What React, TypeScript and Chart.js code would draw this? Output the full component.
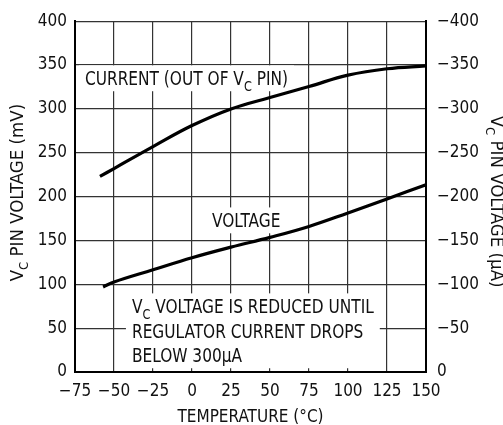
import React, { useEffect, useRef } from 'react';
import { Chart, registerables } from 'chart.js';

Chart.register(...registerables);

// ---- data ----
const currentTemp = [-59, -50, -25, 0, 25, 50, 75, 100, 125, 150];
const currentUA = [223, 232, 257, 281, 300, 313, 325.5, 338.5, 345.8, 349];
const voltageTemp = [-57, -50, -25, 0, 25, 50, 75, 100, 125, 150];
const voltageMV = [97, 102.6, 116.5, 130.3, 142.4, 153.5, 166, 181.4, 197.3, 213.6];

const xMin = -75;
const xMax = 150;
const xStep = 25;
const yMin = 0;
const yMax = 400;
const yStep = 50;

type Run = { t: string; sub?: boolean };
const xTitle = 'TEMPERATURE (°C)';
const leftTitleRuns: Run[] = [{ t: 'V' }, { t: 'C', sub: true }, { t: ' PIN VOLTAGE (mV)' }];
const rightTitleRuns: Run[] = [{ t: 'V' }, { t: 'C', sub: true }, { t: ' PIN VOLTAGE (µA)' }];

const currentLabel: Run[][] = [[{ t: 'CURRENT (OUT OF V' }, { t: 'C', sub: true }, { t: ' PIN)' }]];
const voltageLabel: Run[][] = [[{ t: 'VOLTAGE' }]];
const noteLabel: Run[][] = [
  [{ t: 'V' }, { t: 'C', sub: true }, { t: ' VOLTAGE IS REDUCED UNTIL' }],
  [{ t: 'REGULATOR CURRENT DROPS' }],
  [{ t: 'BELOW 300µA' }],
];
// anchor: left x (°C) and first baseline (mV)
const annotations = [
  { lines: currentLabel, x: -68.6, y: 327 },
  { lines: voltageLabel, x: 12.8, y: 165 },
  { lines: noteLabel, x: -38.5, y: 67 },
];

const FONT = "'DejaVu Sans Condensed', 'Liberation Sans Narrow', sans-serif";
const TICK_SIZE = 17;
const TEXT_SIZE = 19;
const SIDE_TITLE_SIZE = 18.5;
const TEXT_SQUEEZE = 0.9;

function fmtMinus(v: number): string {
  return v < 0 ? '\u2212' + Math.abs(v) : String(v);
}

function runsWidth(ctx: CanvasRenderingContext2D, runs: Run[], size: number): number {
  let w = 0;
  for (const r of runs) {
    ctx.font = `${r.sub ? Math.round(size * 0.72) : size}px ${FONT}`;
    w += ctx.measureText(r.t).width;
  }
  return w;
}

function drawRuns(ctx: CanvasRenderingContext2D, runs: Run[], x: number, y: number, size: number) {
  let cx = x;
  ctx.textAlign = 'left';
  ctx.textBaseline = 'alphabetic';
  for (const r of runs) {
    const s = r.sub ? Math.round(size * 0.72) : size;
    ctx.font = `${s}px ${FONT}`;
    ctx.fillText(r.t, cx, y + (r.sub ? size * 0.28 : 0));
    cx += ctx.measureText(r.t).width;
  }
}

const textPlugin = {
  id: 'textPlugin',
  beforeDatasetsDraw(chart: any) {
    const ctx: CanvasRenderingContext2D = chart.ctx;
    const xs = chart.scales.x;
    const ys = chart.scales.y;
    ctx.save();
    for (const a of annotations) {
      const px = xs.getPixelForValue(a.x);
      const py = ys.getPixelForValue(a.y);
      const lh = 24.5;
      let maxW = 0;
      for (const l of a.lines) maxW = Math.max(maxW, runsWidth(ctx, l, TEXT_SIZE) * TEXT_SQUEEZE);
      const top = py - TEXT_SIZE * 0.73 - 6;
      const bottom = py + (a.lines.length - 1) * lh + 6;
      ctx.fillStyle = '#ffffff';
      ctx.fillRect(px - 6, top, maxW + 12, bottom - top);
      ctx.fillStyle = '#111111';
      a.lines.forEach((l, i) => {
        ctx.save();
        ctx.translate(px, py + i * lh);
        ctx.scale(TEXT_SQUEEZE, 1);
        drawRuns(ctx, l, 0, 0, TEXT_SIZE);
        ctx.restore();
      });
    }
    ctx.restore();
  },
  afterDraw(chart: any) {
    const ctx: CanvasRenderingContext2D = chart.ctx;
    const area = chart.chartArea;
    const midX = (area.left + area.right) / 2;
    const midY = (area.top + area.bottom) / 2;
    ctx.save();
    ctx.fillStyle = '#111111';
    // x title
    ctx.font = `${TICK_SIZE}px ${FONT}`;
    ctx.textAlign = 'center';
    ctx.textBaseline = 'alphabetic';
    ctx.fillText(xTitle, midX, 422);
    // left title
    ctx.save();
    ctx.translate(23, midY - 4);
    ctx.rotate(-Math.PI / 2);
    const lw = runsWidth(ctx, leftTitleRuns, SIDE_TITLE_SIZE);
    drawRuns(ctx, leftTitleRuns, -lw / 2, 0, SIDE_TITLE_SIZE);
    ctx.restore();
    // right title
    ctx.save();
    ctx.translate(491, midY + 5);
    ctx.rotate(Math.PI / 2);
    const rw = runsWidth(ctx, rightTitleRuns, SIDE_TITLE_SIZE);
    drawRuns(ctx, rightTitleRuns, -rw / 2, 0, SIDE_TITLE_SIZE);
    ctx.restore();
    ctx.restore();
  },
};

export default function App() {
  const ref = useRef<HTMLCanvasElement | null>(null);
  useEffect(() => {
    document.body.style.margin = '0';
    if (!ref.current) return;
    const chart = new Chart(ref.current, {
      type: 'line',
      data: {
        datasets: [
          {
            label: 'Current',
            data: currentTemp.map((t, i) => ({ x: t, y: currentUA[i] })),
            yAxisID: 'y',
            borderColor: '#000000',
            borderWidth: 3.2,
            pointRadius: 0,
            tension: 0.4,
            fill: false,
          },
          {
            label: 'Voltage',
            data: voltageTemp.map((t, i) => ({ x: t, y: voltageMV[i] })),
            yAxisID: 'y',
            borderColor: '#000000',
            borderWidth: 3.2,
            pointRadius: 0,
            tension: 0.4,
            fill: false,
          },
        ],
      },
      options: {
        animation: false,
        responsive: false,
        maintainAspectRatio: false,
        layout: { padding: { top: 20, left: 0, right: 0, bottom: 0 } },
        plugins: { legend: { display: false }, tooltip: { enabled: false } },
        scales: {
          x: {
            type: 'linear',
            min: xMin,
            max: xMax,
            afterFit: (s: any) => { s.height = 53; },
            afterBuildTicks: (s: any) => {
              const t = [];
              for (let v = xMin; v <= xMax; v += xStep) t.push({ value: v });
              s.ticks = t;
            },
            ticks: {
              color: '#111111',
              font: { family: FONT, size: TICK_SIZE },
              padding: 9,
              maxRotation: 0,
              autoSkip: false,
              callback: (v: any) => fmtMinus(Number(v)),
            },
            grid: { color: '#333333', lineWidth: 1.2, drawTicks: false },
            border: { color: '#000000', width: 2 },
          },
          y: {
            type: 'linear',
            position: 'left',
            min: yMin,
            max: yMax,
            afterFit: (s: any) => { s.width = 75; },
            ticks: {
              stepSize: yStep,
              color: '#111111',
              font: { family: FONT, size: TICK_SIZE },
              padding: 8,
            },
            grid: { color: '#333333', lineWidth: 1.2, drawTicks: false },
            border: { color: '#000000', width: 2 },
          },
          y2: {
            type: 'linear',
            position: 'right',
            min: yMin,
            max: yMax,
            afterFit: (s: any) => { s.width = 77; },
            ticks: {
              stepSize: yStep,
              color: '#111111',
              font: { family: FONT, size: TICK_SIZE },
              padding: 11,
              callback: (v: any) => fmtMinus(-Number(v)),
            },
            grid: { display: false, drawTicks: false },
            border: { color: '#000000', width: 2 },
          },
        },
      },
      plugins: [textPlugin],
    });
    return () => chart.destroy();
  }, []);
  return (
    <div style={{ width: 503, height: 425, background: '#ffffff' }}>
      <canvas ref={ref} width={503} height={425} style={{ display: 'block' }} />
    </div>
  );
}
